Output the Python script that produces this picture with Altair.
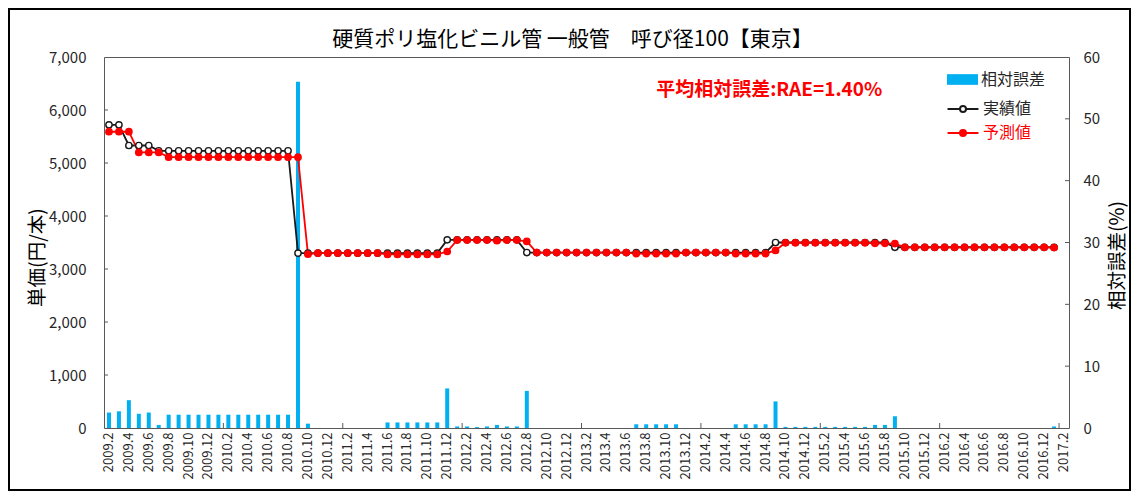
import altair as alt
import pandas as pd

FONT = "Noto Sans CJK JP"

# categories: monthly labels 2009.2 ... 2017.2
months = [f"{y}.{m}" for y in range(2009, 2018) for m in range(1, 13)]
months = months[months.index("2009.2"): months.index("2017.2") + 1]
label_months = months[::2]
year_tick_months = ["2010.2", "2011.2", "2012.2", "2013.2", "2014.2",
                    "2015.2", "2016.2", "2017.2"]
price_ticks = [0, 1000, 2000, 3000, 4000, 5000, 6000, 7000]
error_ticks = [0, 10, 20, 30, 40, 50, 60]

# 実績値 (actual price, yen), 2009.2 .. 2017.1
actual = [
    5720, 5720, 5330, 5330, 5330, 5230, 5230, 5230, 5230, 5230, 5230, 5230,
    5230, 5230, 5230, 5230, 5230, 5230, 5230, 3300, 3300, 3300, 3300, 3300,
    3300, 3300, 3300, 3300, 3300, 3300, 3300, 3300, 3300, 3300, 3550, 3550,
    3550, 3550, 3550, 3550, 3550, 3550, 3310, 3310, 3310, 3310, 3310, 3310,
    3310, 3310, 3310, 3310, 3310, 3310, 3310, 3310, 3310, 3310, 3310, 3310,
    3310, 3310, 3310, 3310, 3310, 3310, 3310, 3500, 3500, 3500, 3500, 3500,
    3500, 3500, 3500, 3500, 3500, 3500, 3500, 3410, 3410, 3410, 3410, 3410,
    3410, 3410, 3410, 3410, 3410, 3410, 3410, 3410, 3410, 3410, 3410, 3410,
]
# 予測値 (predicted price, yen)
predicted = [
    5590, 5590, 5590, 5200, 5200, 5200, 5110, 5110, 5110, 5110, 5110, 5110,
    5110, 5110, 5110, 5110, 5110, 5110, 5110, 5110, 3280, 3300, 3300, 3300,
    3300, 3300, 3300, 3300, 3275, 3275, 3275, 3275, 3275, 3275, 3330, 3545,
    3545, 3545, 3545, 3535, 3545, 3545, 3520, 3310, 3310, 3310, 3310, 3310,
    3310, 3310, 3310, 3310, 3310, 3290, 3290, 3290, 3290, 3290, 3310, 3310,
    3310, 3310, 3310, 3290, 3290, 3290, 3290, 3350, 3495, 3495, 3495, 3495,
    3495, 3495, 3495, 3495, 3495, 3485, 3485, 3480, 3410, 3410, 3410, 3410,
    3410, 3410, 3410, 3410, 3410, 3410, 3410, 3410, 3410, 3410, 3410, 3405,
]
# 相対誤差 (relative error, %)
rel_error = [
    2.5, 2.7, 4.5, 2.3, 2.5, 0.5, 2.15, 2.15, 2.15, 2.15, 2.15, 2.15,
    2.15, 2.15, 2.15, 2.15, 2.15, 2.15, 2.15, 56.0, 0.7, 0, 0, 0,
    0, 0, 0, 0, 0.9, 0.9, 0.9, 0.9, 0.9, 0.9, 6.4, 0.25,
    0.25, 0.15, 0.25, 0.5, 0.25, 0.25, 6.0, 0, 0, 0, 0, 0,
    0, 0, 0, 0, 0, 0.6, 0.6, 0.6, 0.6, 0.6, 0, 0,
    0, 0, 0, 0.6, 0.6, 0.6, 0.6, 4.3, 0.18, 0.18, 0.18, 0.18,
    0.18, 0.18, 0.18, 0.18, 0.18, 0.5, 0.5, 1.9, 0, 0, 0, 0,
    0, 0, 0, 0, 0, 0, 0, 0, 0, 0, 0, 0.25,
]

error_name = ["相対誤差"]
series_names = ["実績値", "予測値"]
annotation_text = ["平均相対誤差:RAE=1.40%"]
annotation_month = ["2013.9"]
annotation_price = [6380]

n = len(actual)
df = pd.DataFrame({
    "idx": list(range(n)),
    "month": months[:n],
    "実績値": actual,
    "予測値": predicted,
    "err": rel_error,
    "kind": error_name * n,
})
long = df.melt(id_vars=["idx", "month"], value_vars=series_names,
               var_name="series", value_name="price")
ann = pd.DataFrame({"month": annotation_month, "price": annotation_price,
                    "text": annotation_text})
frame_df = pd.DataFrame({"k": [0]})
xticks_df = pd.DataFrame({"month": year_tick_months})
lticks_df = pd.DataFrame({"price": price_ticks[1:-1]})
rticks_df = pd.DataFrame({"err": error_ticks[1:-1]})

GRAY = "#595959"

x_scale = alt.Scale(domain=months, paddingInner=0, paddingOuter=0)
x_enc = alt.X(
    "month:O",
    scale=x_scale,
    axis=alt.Axis(values=label_months, labelAngle=-90, labelFontSize=13,
                  labelFont=FONT, labelColor="#262626", labelPadding=4,
                  ticks=False, tickSize=0, domain=False, grid=False,
                  labelOverlap=False),
    title=None,
)

err_scale = alt.Scale(domain=[0, 60], nice=False, zero=True)
bars = alt.Chart(df).mark_bar(size=4).encode(
    x=x_enc,
    y=alt.Y("err:Q",
            scale=err_scale,
            axis=alt.Axis(orient="right", values=error_ticks,
                          labelFontSize=15, labelFont=FONT, labelColor="#262626",
                          labelPadding=14, ticks=False, tickSize=0, domain=False,
                          grid=False, title="相対誤差(%)", titleFont=FONT,
                          titleFontSize=19.5, titleFontWeight="normal",
                          titleColor="black", titleAngle=-90, titleX=48,
                          titleY=198, titleAlign="center",
                          titleBaseline="middle")),
    color=alt.Color(
        "kind:N",
        scale=alt.Scale(domain=error_name, range=["#00B0F0"]),
        legend=alt.Legend(title=None, orient="none", legendX=843, legendY=7,
                          symbolType="M-1,-0.345H1V0.345H-1Z", symbolSize=961,
                          symbolStrokeWidth=0, labelFontSize=16, labelFont=FONT,
                          labelColor="#262626", labelOffset=3, padding=0),
    ),
)
rticks = alt.Chart(rticks_df).mark_rule(color=GRAY, strokeWidth=1).encode(
    y=alt.Y("err:Q", scale=err_scale),
    x=alt.value(961), x2=alt.value(965),
)
right_side = alt.layer(bars, rticks)

price_scale = alt.Scale(domain=[0, 7000], nice=False)
y_price = alt.Y(
    "price:Q",
    scale=price_scale,
    axis=alt.Axis(orient="left", values=price_ticks,
                  format=",.0f", labelFontSize=15, labelFont=FONT,
                  labelColor="#262626", labelPadding=18, ticks=False,
                  tickSize=0, domain=False, grid=False, title="単価(円/本)",
                  titleFont=FONT, titleFontSize=19.5, titleFontWeight="normal",
                  titleColor="black", titleAngle=-90, titleX=-67, titleY=200,
                  titleAlign="center", titleBaseline="middle"),
)

line_path = "M-1.03,0H-0.2M0.2,0H1.03M-0.2,0A0.2,0.2 0 1,1 0.2,0A0.2,0.2 0 1,1 -0.2,0Z"
line_legend = alt.Legend(
    title=None, orient="none", legendX=843, legendY=36, symbolType=line_path,
    symbolSize=900, symbolStrokeWidth=2, labelFontSize=16, labelFont=FONT,
    labelOffset=4, rowPadding=0, padding=0,
    labelColor={"expr": "datum.label == '予測値' ? '#FF0000' : '#262626'"},
)
stroke_enc = alt.Stroke("series:N",
                        scale=alt.Scale(domain=series_names, range=["#1a1a1a", "#FF0000"]),
                        legend=line_legend)
fill_enc = alt.Fill("series:N",
                    scale=alt.Scale(domain=series_names, range=["#FFFFFF", "#FF0000"]),
                    legend=line_legend)

lines = alt.Chart(long).mark_line(strokeWidth=1.8).encode(
    x=x_enc, y=y_price, stroke=stroke_enc, order=alt.Order("idx:Q"),
    detail="series:N",
)
points = alt.Chart(long).mark_point(shape="circle", filled=True, size=40,
                                    strokeWidth=1.4, opacity=1).encode(
    x=x_enc, y=y_price, stroke=stroke_enc, fill=fill_enc,
)
annotation = alt.Chart(ann).mark_text(
    align="left", baseline="middle", fontSize=19, fontWeight="bold",
    font=FONT, color="#FF0000").encode(x=x_enc, y=y_price, text="text:N")
lticks = alt.Chart(lticks_df).mark_rule(color=GRAY, strokeWidth=1).encode(
    y=alt.Y("price:Q", scale=price_scale),
    x=alt.value(0), x2=alt.value(4),
)
xticks = alt.Chart(xticks_df).mark_rule(color=GRAY, strokeWidth=1).encode(
    x=alt.X("month:O", scale=x_scale, bandPosition=0),
    y=alt.value(366), y2=alt.value(371),
)

frame = alt.Chart(frame_df).mark_rect(fillOpacity=0, stroke="black",
                                      strokeWidth=2).encode(
    x=alt.value(-95), x2=alt.value(1026), y=alt.value(-48), y2=alt.value(433))

left_side = alt.layer(lticks, xticks, lines, points, annotation)

chart = alt.layer(right_side, left_side, frame).resolve_scale(
    y="independent"
).properties(
    width=965, height=371,
    autosize=alt.AutoSizeParams(type="none"),
    padding={"left": 96, "top": 49, "right": 62, "bottom": 63},
    title=alt.TitleParams("硬質ポリ塩化ビニル管 一般管\u3000呼び径100【東京】",
                          fontSize=21, font=FONT, color="black",
                          fontWeight="normal", offset=10, dx=-14, dy=52,
                          anchor="middle"),
).configure_view(stroke=GRAY, strokeWidth=1)

chart.save("out.html", embed_options={"renderer": "svg", "actions": False})
